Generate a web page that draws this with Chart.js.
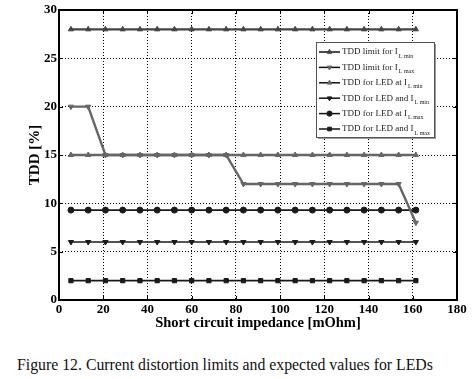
<!DOCTYPE html>
<html>
<head>
<meta charset="utf-8">
<script src="https://cdn.jsdelivr.net/npm/chart.js@4"></script>
<style>
  body { margin: 0; background: #fff; }
  #wrap { position: relative; width: 474px; height: 340px; }
  #caption {
    position: absolute; left: 17px; top: 356px;
    font: 15.8px "Liberation Serif", serif; color: #111; white-space: nowrap;
  }
</style>
</head>
<body>
<div id="wrap"><canvas id="tddChart"></canvas></div>
<div id="caption">Figure 12. Current distortion limits and expected values for LEDs</div>
<script>
// short circuit impedance [mOhm]
const impedance = [5.4, 13.2, 21.0, 28.8, 36.6, 44.4, 52.2, 60.0, 67.8, 75.6, 83.4,
                   91.2, 99.0, 106.8, 114.6, 122.4, 130.2, 138.0, 145.8, 153.6, 161.4];

// TDD [%]
const limitLmin  = [28, 28, 28, 28, 28, 28, 28, 28, 28, 28, 28, 28, 28, 28, 28, 28, 28, 28, 28, 28, 28];
const limitLmax  = [20, 20, 15, 15, 15, 15, 15, 15, 15, 15, 12, 12, 12, 12, 12, 12, 12, 12, 12, 12, 8];
const ledAtLmin  = [15, 15, 15, 15, 15, 15, 15, 15, 15, 15, 15, 15, 15, 15, 15, 15, 15, 15, 15, 15, 15];
const ledAndLmin = [6, 6, 6, 6, 6, 6, 6, 6, 6, 6, 6, 6, 6, 6, 6, 6, 6, 6, 6, 6, 6];
const ledAtLmax  = [9.3, 9.3, 9.3, 9.3, 9.3, 9.3, 9.3, 9.3, 9.3, 9.3, 9.3, 9.3, 9.3, 9.3, 9.3, 9.3, 9.3, 9.3, 9.3, 9.3, 9.3];
const ledAndLmax = [2, 2, 2, 2, 2, 2, 2, 2, 2, 2, 2, 2, 2, 2, 2, 2, 2, 2, 2, 2, 2];

const xTicks = [0, 20, 40, 60, 80, 100, 120, 140, 160, 180];
const yTicks = [0, 5, 10, 15, 20, 25, 30];

const series = [
    { label: "TDD limit for I", sub: "L min", data: limitLmin,  color: "#444444", marker: "triangle", rot: 0,   width: 2.2 },
    { label: "TDD limit for I", sub: "L max", data: limitLmax,  color: "#666666", marker: "triangle", rot: 180, width: 2.4 },
    { label: "TDD for LED at I", sub: "L min", data: ledAtLmin,  color: "#666666", marker: "triangle", rot: 0,   width: 2.4 },
    { label: "TDD for LED and I", sub: "L min", data: ledAndLmin, color: "#1a1a1a", marker: "triangle", rot: 180, width: 1.6 },
    { label: "TDD for LED at I", sub: "L max", data: ledAtLmax,  color: "#1a1a1a", marker: "circle",   rot: 0,   width: 1.6 },
    { label: "TDD for LED and I", sub: "L max", data: ledAndLmax, color: "#1a1a1a", marker: "rect",     rot: 0,   width: 1.6 },
];

const serif = "'Liberation Serif', 'Times New Roman', serif";

// frame, inward tick marks and legend with subscripts
const matlabLook = {
    id: "matlabLook",
    afterDraw(chart) {
        const { ctx, chartArea: a, scales: { x, y } } = chart;
        ctx.save();
        ctx.strokeStyle = "#000";
        ctx.lineWidth = 2;
        ctx.strokeRect(a.left, a.top, a.right - a.left, a.bottom - a.top);
        ctx.lineWidth = 1;
        ctx.beginPath();
        xTicks.forEach(v => {
            const px = Math.round(x.getPixelForValue(v)) + 0.5;
            ctx.moveTo(px, a.bottom); ctx.lineTo(px, a.bottom - 4);
            ctx.moveTo(px, a.top); ctx.lineTo(px, a.top + 4);
        });
        yTicks.forEach(v => {
            const py = Math.round(y.getPixelForValue(v)) + 0.5;
            ctx.moveTo(a.left, py); ctx.lineTo(a.left + 4, py);
            ctx.moveTo(a.right, py); ctx.lineTo(a.right - 4, py);
        });
        ctx.stroke();

        // legend
        const bx = 316, by = 42, bw = 118, bh = 95;
        ctx.fillStyle = "#999";
        ctx.fillRect(bx + 2, by + 2, bw, bh);
        ctx.fillStyle = "#fff";
        ctx.fillRect(bx, by, bw, bh);
        ctx.strokeStyle = "#555";
        ctx.strokeRect(bx + 0.5, by + 0.5, bw, bh);
        series.forEach((s, i) => {
            const ly = 52 + i * 15.4;
            ctx.strokeStyle = "#111";
            ctx.lineWidth = 1.5;
            ctx.beginPath();
            ctx.moveTo(319, ly); ctx.lineTo(340, ly);
            ctx.stroke();
            ctx.fillStyle = s.color;
            ctx.strokeStyle = s.color;
            ctx.lineWidth = 1;
            Chart.helpers.drawPoint(ctx, { pointStyle: s.marker, rotation: s.rot, radius: 2.6, borderWidth: 1 }, 329.5, ly);
            ctx.fillStyle = "#222";
            ctx.font = "9px " + serif;
            ctx.textBaseline = "middle";
            ctx.textAlign = "left";
            ctx.fillText(s.label, 342, ly);
            const w = ctx.measureText(s.label).width;
            ctx.font = "6px " + serif;
            ctx.fillText(s.sub, 342 + w + 1, ly + 4);
        });
        ctx.restore();
    }
};

function drawChart() {
    new Chart(document.getElementById("tddChart").getContext("2d"), {
        type: "line",
        data: {
            datasets: series.map(s => ({
                label: s.label + " " + s.sub,
                data: impedance.map((v, i) => ({ x: v, y: s.data[i] })),
                borderColor: s.color,
                backgroundColor: s.color,
                borderWidth: s.width,
                pointStyle: s.marker,
                rotation: s.rot,
                pointRadius: 3,
                pointBorderWidth: 1,
                tension: 0,
            })),
        },
        options: {
            responsive: true,
            maintainAspectRatio: false,
            animation: false,
            layout: { padding: { top: 10, right: 17, left: 0, bottom: 0 } },
            plugins: {
                legend: { display: false },
                tooltip: { enabled: false },
            },
            scales: {
                x: {
                    type: "linear",
                    min: 0,
                    max: 180,
                    afterFit: scale => { scale.height = 40; },
                    afterBuildTicks: scale => { scale.ticks = xTicks.map(v => ({ value: v })); },
                    grid: { color: "#000", lineWidth: 1, drawTicks: false },
                    border: { display: false, dash: [1, 2] },
                    ticks: { color: "#000", padding: 2, font: { family: serif, size: 13, weight: "bold" } },
                    title: {
                        display: true,
                        text: "Short circuit impedance [mOhm]",
                        color: "#000",
                        font: { family: serif, size: 14.5, weight: "bold" },
                        padding: { top: 0, bottom: 8 },
                    },
                },
                y: {
                    min: 0,
                    max: 30,
                    afterFit: scale => { scale.width = 59; },
                    afterBuildTicks: scale => { scale.ticks = yTicks.map(v => ({ value: v })); },
                    grid: { color: "#000", lineWidth: 1, drawTicks: false },
                    border: { display: false, dash: [1, 2] },
                    ticks: { color: "#000", padding: 2, font: { family: serif, size: 13, weight: "bold" } },
                    title: {
                        display: true,
                        text: "TDD [%]",
                        color: "#000",
                        font: { family: serif, size: 15, weight: "bold" },
                        padding: { top: 26, bottom: 0 },
                    },
                },
            },
        },
        plugins: [matlabLook],
    });
}

Promise.all([
    document.fonts.load("bold 13px 'Liberation Serif'"),
    document.fonts.load("9px 'Liberation Serif'"),
]).then(drawChart, drawChart);
</script>
</body>
</html>
